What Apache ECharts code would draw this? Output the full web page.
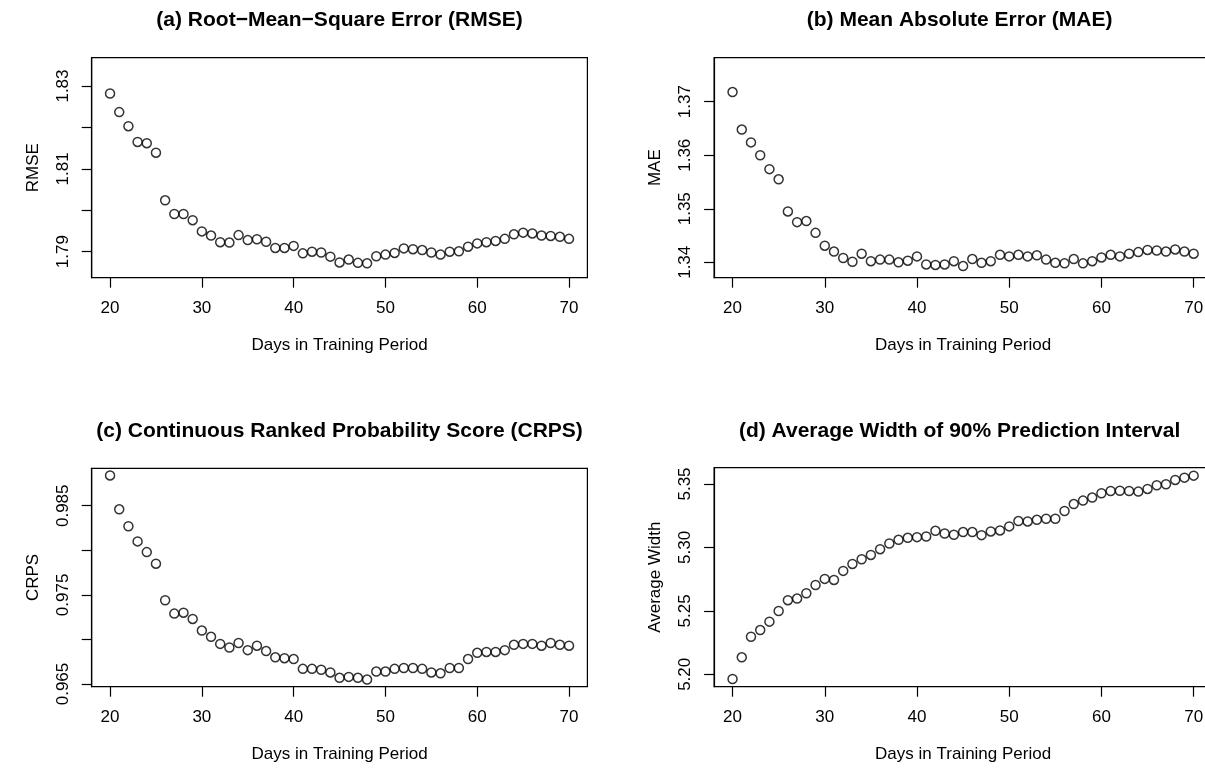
<!DOCTYPE html>
<html>
<head>
<meta charset="utf-8">
<script src="https://cdn.jsdelivr.net/npm/echarts@6/dist/echarts.min.js"></script>
<style>
  html, body { margin: 0; padding: 0; background: #fff; overflow: hidden; }
  #chart { width: 1215px; height: 769px; }
</style>
</head>
<body>
<div id="chart"></div>
<script>
// days in training period
const days = [20,21,22,23,24,25,26,27,28,29,30,31,32,33,34,35,36,37,38,39,40,41,42,43,44,45,
  46,47,48,49,50,51,52,53,54,55,56,57,58,59,60,61,62,63,64,65,66,67,68,69,70];

const rmse = [1.8282,1.8237,1.8203,1.8165,1.8162,1.8139,1.8024,1.7991,1.7991,1.7976,1.7949,1.7939,
  1.7923,1.7922,1.7940,1.7928,1.7930,1.7924,1.7909,1.7909,1.7914,1.7896,1.7900,1.7898,1.7888,1.7874,
  1.7881,1.7873,1.7872,1.7889,1.7893,1.7897,1.7908,1.7906,1.7904,1.7898,1.7893,1.7900,1.7901,1.7912,
  1.7920,1.7923,1.7926,1.7931,1.7942,1.7946,1.7944,1.7939,1.7938,1.7936,1.7931];

const mae = [1.3718,1.3648,1.3624,1.3600,1.3574,1.3555,1.3495,1.3475,1.3477,1.3455,1.3431,1.3420,
  1.3408,1.3401,1.3416,1.3402,1.3405,1.3405,1.3400,1.3403,1.3411,1.3396,1.3395,1.3396,1.3402,1.3393,
  1.3406,1.3399,1.3402,1.3414,1.3411,1.3414,1.3411,1.3413,1.3405,1.3399,1.3398,1.3406,1.3398,1.3402,
  1.3409,1.3414,1.3411,1.3416,1.3419,1.3423,1.3422,1.3420,1.3424,1.3420,1.3416];

const crps = [0.9884,0.9846,0.9827,0.9810,0.9798,0.9785,0.9744,0.9729,0.9730,0.9723,0.9710,0.9703,
  0.9695,0.9691,0.9696,0.9688,0.9693,0.9687,0.9680,0.9679,0.9678,0.9667,0.9667,0.9666,0.9663,0.9657,
  0.9658,0.9657,0.9655,0.9664,0.9664,0.9667,0.9668,0.9668,0.9667,0.9663,0.9662,0.9668,0.9668,0.9678,
  0.9685,0.9686,0.9686,0.9688,0.9694,0.9695,0.9695,0.9693,0.9696,0.9694,0.9693];

const avgWidth = [5.1963,5.2134,5.2296,5.2349,5.2415,5.2499,5.2584,5.2597,5.2639,5.2704,5.2752,5.2744,
  5.2815,5.2870,5.2907,5.2941,5.2986,5.3031,5.3060,5.3076,5.3081,5.3086,5.3131,5.3110,5.3100,5.3121,
  5.3121,5.3097,5.3126,5.3134,5.3166,5.3208,5.3205,5.3218,5.3226,5.3226,5.3287,5.3342,5.3369,5.3393,
  5.3427,5.3445,5.3447,5.3445,5.3440,5.3461,5.3490,5.3498,5.3532,5.3550,5.3566];

// tick values
const xTicks = [20,30,40,50,60,70];
const rmseTicks = [1.79,1.80,1.81,1.82,1.83];
const rmseLabels = [1.79,1.81,1.83];
const maeTicks = [1.34,1.35,1.36,1.37];
const crpsTicks = [0.965,0.970,0.975,0.980,0.985];
const crpsLabels = [0.965,0.975,0.985];
const widthTicks = [5.20,5.25,5.30,5.35];

const titles = [
  '(a) Root\u2212Mean\u2212Square Error (RMSE)',
  '(b) Mean Absolute Error (MAE)',
  '(c) Continuous Ranked Probability Score (CRPS)',
  '(d) Average Width of 90% Prediction Interval'
];
const yNames = ['RMSE', 'MAE', 'CRPS', 'Average Width'];
const xName = 'Days in Training Period';

const FONT = '"Liberation Sans", Arial, Helvetica, sans-serif';

const grids = [
  { left: 91.7, top: 57.7, width: 495.7, height: 220 },
  { left: 714.1, top: 57.7, width: 498, height: 220 },
  { left: 91.7, top: 468.3, width: 495.7, height: 218.4 },
  { left: 714.1, top: 467.7, width: 498, height: 219 }
];
const yRanges = [[1.78372, 1.83684], [1.33712, 1.37822], [0.96470, 0.98920], [5.19023, 5.36285]];
const yTickSets = [rmseTicks, maeTicks, crpsTicks, widthTicks];
const yLabelSets = [rmseLabels, maeTicks, crpsLabels, widthTicks];
const yDigits = [2, 2, 3, 2];
const seriesVals = [rmse, mae, crps, avgWidth];

const lineStyle = { color: '#000', width: 1.2 };

const option = {
  animation: false,
  backgroundColor: '#fff',
  title: grids.map((g, i) => ({
    text: titles[i],
    left: g.left + g.width / 2 - (i % 2 ? 3.5 : 0),
    top: i < 2 ? 10 : 421,
    textAlign: 'center',
    padding: 0,
    textStyle: { fontFamily: FONT, fontWeight: 'bold', fontSize: 21, color: '#000' }
  })),
  grid: grids.map(g => Object.assign({ show: true, borderColor: '#000', borderWidth: 1.2, containLabel: false }, g)),
  xAxis: grids.map((g, i) => ({
    type: 'value', gridIndex: i, min: 18, max: 72,
    name: xName, nameLocation: 'middle', nameGap: 59,
    nameTextStyle: { fontFamily: FONT, fontSize: 17, color: '#000', verticalAlign: 'top' },
    axisLine: { show: true, lineStyle },
    axisTick: { show: true, inside: false, length: 10, lineStyle, customValues: xTicks },
    axisLabel: { show: true, margin: 22, fontFamily: FONT, fontSize: 17, color: '#000', customValues: xTicks },
    splitLine: { show: false }
  })),
  yAxis: grids.map((g, i) => ({
    type: 'value', gridIndex: i, min: yRanges[i][0], max: yRanges[i][1],
    name: yNames[i], nameLocation: 'middle', nameGap: 50, nameRotate: 90,
    nameTextStyle: { fontFamily: FONT, fontSize: 17, color: '#000' },
    axisLine: { show: true, lineStyle },
    axisTick: { show: true, inside: false, length: 10, lineStyle, customValues: yTickSets[i] },
    axisLabel: {
      show: true, rotate: 90, margin: 20, fontFamily: FONT, fontSize: 17, color: '#000',
      customValues: yLabelSets[i],
      formatter: v => Number(v).toFixed(yDigits[i])
    },
    splitLine: { show: false }
  })),
  series: seriesVals.map((vals, i) => ({
    type: 'scatter', xAxisIndex: i, yAxisIndex: i,
    symbol: 'circle', symbolSize: 9,
    itemStyle: { color: 'rgba(0,0,0,0)', borderColor: '#000', borderWidth: 1.5 },
    data: days.map((d, k) => [d, vals[k]])
  }))
};

const chart = echarts.init(document.getElementById('chart'), null, { renderer: 'canvas' });
chart.setOption(option);
</script>
</body>
</html>
